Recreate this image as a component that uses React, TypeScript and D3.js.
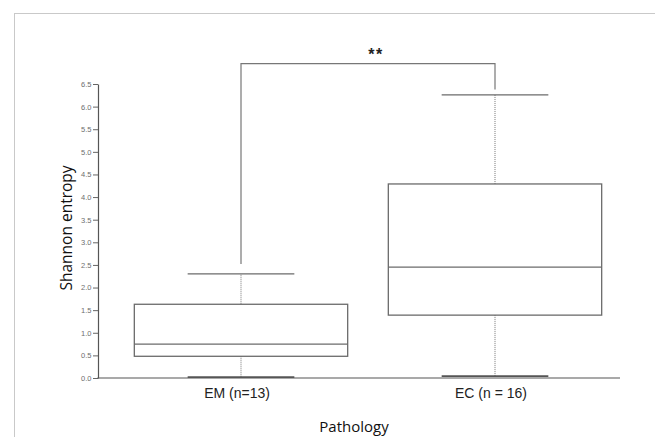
import React, { useEffect, useRef } from "react";
import * as d3 from "d3";

const categories = ["EM (n=13)", "EC (n = 16)"];
const whiskerLow = [0.02, 0.04];
const q1 = [0.48, 1.39];
const median = [0.75, 2.45];
const q3 = [1.63, 4.29];
const whiskerHigh = [2.3, 6.26];
const yTicks = [0, 0.5, 1, 1.5, 2, 2.5, 3, 3.5, 4, 4.5, 5, 5.5, 6, 6.5];
const significance = "**";
const bracketLevel = 6.95;
const bracketLeftEnd = 2.52;
const bracketRightEnd = 6.38;

const W = 655;
const H = 437;

export default function App() {
  const ref = useRef<SVGSVGElement>(null);

  useEffect(() => {
    const svg = d3.select(ref.current);
    svg.selectAll("*").remove();

    const y = d3.scaleLinear().domain([0, 6.5]).range([378, 84]);
    const x = d3.scaleBand<string>().domain(categories).range([114, 622]).padding(0);
    const bw = x.bandwidth() * 0.84;
    const cw = bw / 2;
    const stroke = "#6b6b6b";

    // frame
    svg.append("line").attr("x1", 14).attr("x2", W).attr("y1", 13.5).attr("y2", 13.5)
      .attr("stroke", "#c9c9c9").attr("stroke-width", 1);
    svg.append("line").attr("x1", 14.5).attr("x2", 14.5).attr("y1", 13).attr("y2", H)
      .attr("stroke", "#c9c9c9").attr("stroke-width", 1);

    // y axis
    const yAxis = d3.axisLeft(y).tickValues(yTicks).tickFormat(d3.format(".1f"))
      .tickSize(5).tickSizeOuter(0).tickPadding(1.5);
    const gy = svg.append("g").attr("transform", "translate(98,0)").call(yAxis);
    gy.select(".domain").attr("stroke", "#555").attr("stroke-width", 1.2);
    gy.selectAll(".tick line").attr("stroke", "#666").attr("stroke-width", 1);
    gy.selectAll(".tick text").attr("fill", "#6e6e6e").attr("font-size", 7.5)
      .attr("font-family", "Liberation Sans, Arial, sans-serif");

    // x axis line
    svg.append("line").attr("x1", 97.4).attr("x2", 620).attr("y1", y(0)).attr("y2", y(0))
      .attr("stroke", "#555").attr("stroke-width", 1.2);

    categories.forEach((c, i) => {
      const cx = (x(c) as number) + x.bandwidth() / 2;
      // dotted whiskers
      svg.append("line").attr("x1", cx).attr("x2", cx).attr("y1", y(q3[i])).attr("y2", y(whiskerHigh[i]))
        .attr("stroke", "#777").attr("stroke-width", 1).attr("stroke-dasharray", "1,1");
      svg.append("line").attr("x1", cx).attr("x2", cx).attr("y1", y(q1[i])).attr("y2", y(whiskerLow[i]))
        .attr("stroke", "#777").attr("stroke-width", 1).attr("stroke-dasharray", "1,1");
      // caps
      svg.append("line").attr("x1", cx - cw / 2).attr("x2", cx + cw / 2)
        .attr("y1", y(whiskerHigh[i])).attr("y2", y(whiskerHigh[i]))
        .attr("stroke", stroke).attr("stroke-width", 1.3);
      svg.append("line").attr("x1", cx - cw / 2).attr("x2", cx + cw / 2)
        .attr("y1", y(whiskerLow[i])).attr("y2", y(whiskerLow[i]))
        .attr("stroke", "#555").attr("stroke-width", 1.8);
      // box
      svg.append("rect").attr("x", cx - bw / 2).attr("width", bw)
        .attr("y", y(q3[i])).attr("height", y(q1[i]) - y(q3[i]))
        .attr("fill", "none").attr("stroke", stroke).attr("stroke-width", 1.3);
      svg.append("line").attr("x1", cx - bw / 2).attr("x2", cx + bw / 2)
        .attr("y1", y(median[i])).attr("y2", y(median[i]))
        .attr("stroke", stroke).attr("stroke-width", 1.3);
      // category label
      svg.append("text").attr("x", cx - 4).attr("y", 397.5).attr("text-anchor", "middle")
        .attr("font-family", "Liberation Sans, Arial, sans-serif").attr("font-size", 14)
        .attr("fill", "#222").text(c);
    });

    // significance bracket
    const xl = (x(categories[0]) as number) + x.bandwidth() / 2;
    const xr = (x(categories[1]) as number) + x.bandwidth() / 2;
    svg.append("path")
      .attr("d", `M${xl},${y(bracketLeftEnd)}V${y(bracketLevel)}H${xr}V${y(bracketRightEnd)}`)
      .attr("fill", "none").attr("stroke", "#777").attr("stroke-width", 1.2);
    svg.append("text").attr("x", (xl + xr) / 2 + 8).attr("y", 60).attr("text-anchor", "middle")
      .attr("font-family", "Liberation Sans, Arial, sans-serif").attr("font-size", 16)
      .attr("font-weight", "bold").attr("letter-spacing", 1.5).attr("fill", "#222").text(significance);

    // axis titles
    svg.append("text").attr("transform", "translate(72,228) rotate(-90)")
      .attr("text-anchor", "middle").attr("font-family", "Open Sans, sans-serif")
      .attr("font-size", 15.5).attr("fill", "#111").text("Shannon entropy");
    svg.append("text").attr("x", 354).attr("y", 432).attr("text-anchor", "middle")
      .attr("font-family", "Open Sans, sans-serif").attr("font-size", 15)
      .attr("fill", "#111").text("Pathology");
  }, []);

  return (
    <div style={{ position: "fixed", left: 0, top: 0, width: W, height: H, background: "#fff" }}>
      <svg ref={ref} width={W} height={H} style={{ display: "block" }} />
    </div>
  );
}
